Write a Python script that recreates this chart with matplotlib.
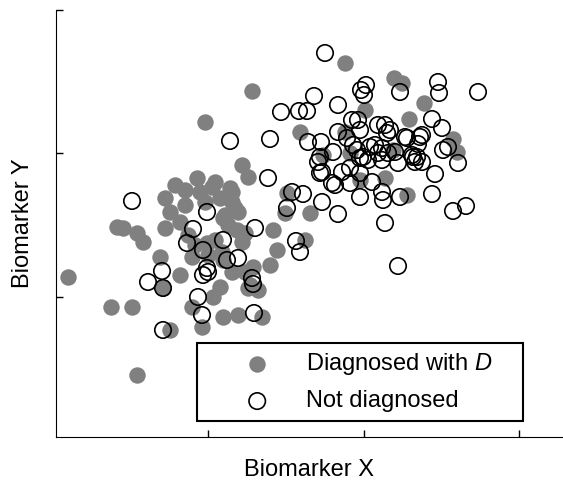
import matplotlib
matplotlib.use("Agg")
import matplotlib.pyplot as plt

plt.rcParams['font.family'] = ['Liberation Sans', 'DejaVu Sans']
plt.rcParams['mathtext.fontset'] = 'custom'
plt.rcParams['mathtext.it'] = 'Liberation Sans:italic'
plt.rcParams['mathtext.rm'] = 'Liberation Sans'

# arbitrary units (the axes carry no tick labels)
diag_x = [149, 196, 289, 338, 346, 309, 368, 353, 397, 401, 244, 267, 186, 192,
          304, 329, 351, 231, 229, 254, 217, 249, 221, 214, 12, 55, 76, 81,
          61, 67, 81, 87, 104, 124, 107, 114, 136, 146, 164, 192, 167, 182,
          206, 109, 114, 109, 129, 141, 159, 164, 176, 179, 167, 181, 136,
          151, 159, 167, 176, 197, 194, 202, 157, 144, 156, 174, 176, 149,
          169, 182, 172, 189, 186, 152, 166, 189, 124, 129, 132, 139, 119,
          289, 294, 337]
diag_y = [315, 346, 374, 359, 354, 327, 334, 318, 298, 285, 305, 282, 272, 260,
          257, 259, 242, 244, 224, 224, 207, 197, 187, 172, 160, 130, 130, 62,
          210, 209, 204, 195, 180, 162, 149, 107, 130, 110, 150, 149, 120, 122,
          120, 239, 225, 209, 247, 259, 255, 239, 245, 229, 219, 207, 180,
          194, 197, 177, 165, 170, 152, 147, 140, 245, 250, 249, 235, 235,
          222, 225, 212, 204, 195, 182, 185, 165, 215, 232, 202, 192, 252,
          305, 284, 287]

notdiag_x = [269, 258, 282, 225, 243, 251, 174, 214, 252, 265, 282, 277, 382,
             383, 422, 310, 305, 308, 344, 296, 302, 322, 329, 331, 376, 386,
             392, 387, 366, 362, 351, 319, 326, 322, 332, 339, 356, 361, 294,
             304, 294, 316, 304, 326, 327, 344, 376, 379, 402, 359, 366, 342,
             329, 397, 410, 342, 282, 279, 304, 312, 326, 212, 236, 247, 266,
             231, 151, 199, 240, 244, 182, 171, 167, 147, 137, 131, 151, 152,
             147, 196, 262, 266, 276, 286, 76, 106, 92, 107, 107, 142, 146,
             197, 198, 291, 297, 304, 301, 307, 314, 334, 349, 364, 357, 264,
             264]
notdiag_y = [384, 341, 332, 325, 326, 326, 296, 298, 295, 295, 305, 285, 355,
             344, 345, 352, 347, 342, 345, 317, 317, 312, 312, 304, 318, 309,
             290, 287, 302, 293, 299, 292, 289, 284, 284, 285, 282, 280, 269,
             264, 254, 255, 240, 245, 237, 240, 243, 263, 274, 275, 275, 274,
             214, 226, 231, 171, 223, 252, 279, 277, 277, 259, 245, 243, 235,
             229, 225, 209, 196, 185, 179, 177, 197, 187, 208, 194, 169, 165,
             162, 159, 275, 265, 254, 265, 236, 166, 155, 149, 107, 140, 122,
             153, 124, 299, 292, 307, 287, 280, 290, 307, 300, 300, 280, 280,
             264]

fig = plt.figure(figsize=(5.63, 4.82), dpi=100)
ax = fig.add_axes([56 / 563, 45 / 482, 507 / 563, 427 / 482])

ax.scatter(diag_x, diag_y, s=140, c='#808080', linewidths=0,
           label='Diagnosed with $D$', zorder=2)
ax.scatter(notdiag_x, notdiag_y, s=140, facecolors='none', edgecolors='black',
           linewidths=1.2, label='Not diagnosed', zorder=3)

ax.set_xlim(0, 507)
ax.set_ylim(0, 427)
ax.set_xticks([152, 308, 463])
ax.set_yticks([140, 284, 427])
ax.set_xticklabels([])
ax.set_yticklabels([])
ax.tick_params(direction='in', length=5, width=1)
ax.spines['top'].set_visible(False)
ax.spines['right'].set_visible(False)

ax.set_xlabel('Biomarker X', fontsize=17, labelpad=12)
ax.set_ylabel('Biomarker Y', fontsize=17, labelpad=12)

leg = ax.legend(loc='upper left', bbox_to_anchor=(197 / 563, 60 / 482, 326 / 563, 79 / 482),
                bbox_transform=fig.transFigure, mode='expand', borderaxespad=0,
                fontsize=17, frameon=True, fancybox=False, edgecolor='black',
                framealpha=1, borderpad=0.35, handlelength=4.4, handletextpad=-0.15,
                labelspacing=0.55)
leg.get_frame().set_linewidth(1.5)

fig.savefig('out.png', dpi=100)
